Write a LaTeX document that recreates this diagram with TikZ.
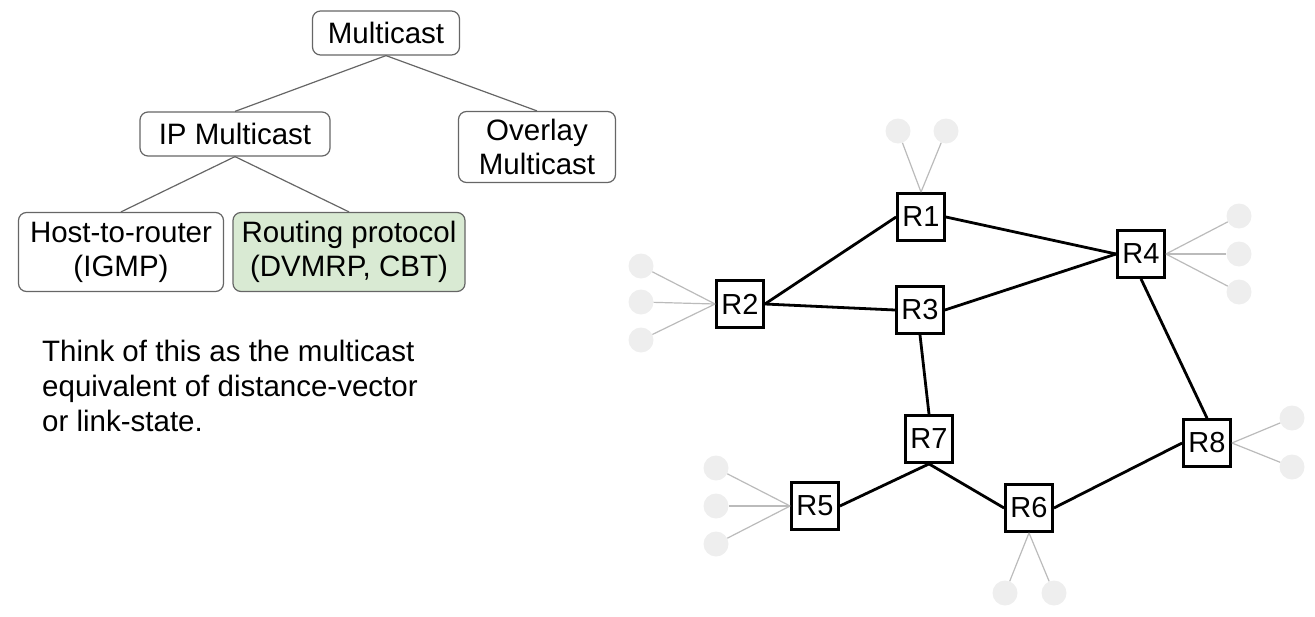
\documentclass[tikz,border=0pt]{standalone}
\usepackage{fontspec}
\setmainfont{Liberation Sans}
\usetikzlibrary{positioning}
\definecolor{boxline}{HTML}{666666}
\definecolor{routfill}{HTML}{D9EAD3}
\definecolor{hostfill}{HTML}{EEEEEE}
\definecolor{hostline}{HTML}{BBBBBB}
\tikzset{
  treebox/.style={draw=boxline, line width=1.2pt, rounded corners=8pt, fill=white, align=center, inner sep=1pt, font=\fontsize{29.5}{34}\selectfont},
  router/.style={draw, line width=2.8pt, minimum width=47pt, minimum height=47pt, inner sep=0pt, font=\fontsize{29}{32}\selectfont},
  host/.style={circle, fill=hostfill, minimum size=25pt, inner sep=0pt},
  treeline/.style={draw=boxline, line width=1.2pt},
  link/.style={line width=2.8pt},
  hostlink/.style={draw=hostline, line width=1.2pt},
}

\begin{document}
\begin{tikzpicture}[x=1pt,y=-1pt]
            \useasboundingbox (0,0) rectangle (1315,616);
            % tree of multicast kinds
            \node[treebox, minimum width=147pt, minimum height=44pt] (mc) at (386,33) {Multicast};
            \node[treebox, minimum width=190pt, minimum height=44pt] (ip) at (235,134) {IP Multicast};
            \node[treebox, minimum width=157pt, minimum height=71pt] (ov) at (537,147) {Overlay\\Multicast};
            \node[treebox, minimum width=205pt, minimum height=79pt] (host) at (121,252) {Host-to-router\\(IGMP)};
            \node[treebox, minimum width=232pt, minimum height=79pt, fill=routfill] (rout) at (349,252) {Routing protocol\\(DVMRP, CBT)};
            
            \draw[treeline] (mc.south) -- (ip.north);
            \draw[treeline] (mc.south) -- (ov.north);
            \draw[treeline] (ip.south) -- (host.north);
            \draw[treeline] (ip.south) -- (rout.north);
            
            \node[anchor=west, align=left, inner sep=0pt, font=\fontsize{29.5}{35}\selectfont] (note) at (42,386)
                {Think of this as the multicast\\equivalent of distance-vector\\or link-state.};
            
            % routers
            \node[router] (R1) at (921,217) {R1};
            \node[router] (R2) at (740,304) {R2};
            \node[router] (R3) at (920,310) {R3};
            \node[router] (R4) at (1141,254) {R4};
            \node[router] (R5) at (815,506) {R5};
            \node[router] (R6) at (1029,508) {R6};
            \node[router] (R7) at (929,439) {R7};
            \node[router] (R8) at (1207,443) {R8};
            
            \draw[link] (R2.east) -- (R1.west);
            \draw[link] (R1.east) -- (R4.west);
            \draw[link] (R2.east) -- (R3.west);
            \draw[link] (R3.east) -- (R4.west);
            \draw[link] (R3.south) -- (R7.north);
            \draw[link] (R4.south) -- (R8.north);
            \draw[link] (R7.south) -- (R5.east);
            \draw[link] (R7.south) -- (R6.west);
            \draw[link] (R6.east) -- (R8.west);
            
            % hosts
            \node[host] (h1a) at (898,131) {};
            \node[host] (h1b) at (946,131) {};
            \node[host] (h2a) at (641,266) {};
            \node[host] (h2b) at (641,302) {};
            \node[host] (h2c) at (641,340) {};
            \node[host] (h4a) at (1239,216) {};
            \node[host] (h4b) at (1239,254) {};
            \node[host] (h4c) at (1239,292) {};
            \node[host] (h5a) at (716,468) {};
            \node[host] (h5b) at (716,506) {};
            \node[host] (h5c) at (716,544) {};
            \node[host] (h6a) at (1005,593) {};
            \node[host] (h6b) at (1054,593) {};
            \node[host] (h8a) at (1292,418) {};
            \node[host] (h8b) at (1292,467) {};
            
            \draw[hostlink] (R1.north) -- (h1a);
            \draw[hostlink] (R1.north) -- (h1b);
            \draw[hostlink] (R2.west) -- (h2a);
            \draw[hostlink] (R2.west) -- (h2b);
            \draw[hostlink] (R2.west) -- (h2c);
            \draw[hostlink] (R4.east) -- (h4a);
            \draw[hostlink] (R4.east) -- (h4b);
            \draw[hostlink] (R4.east) -- (h4c);
            \draw[hostlink] (R5.west) -- (h5a);
            \draw[hostlink] (R5.west) -- (h5b);
            \draw[hostlink] (R5.west) -- (h5c);
            \draw[hostlink] (R6.south) -- (h6a);
            \draw[hostlink] (R6.south) -- (h6b);
            \draw[hostlink] (R8.east) -- (h8a);
            \draw[hostlink] (R8.east) -- (h8b);
            
\end{tikzpicture}
\end{document}
